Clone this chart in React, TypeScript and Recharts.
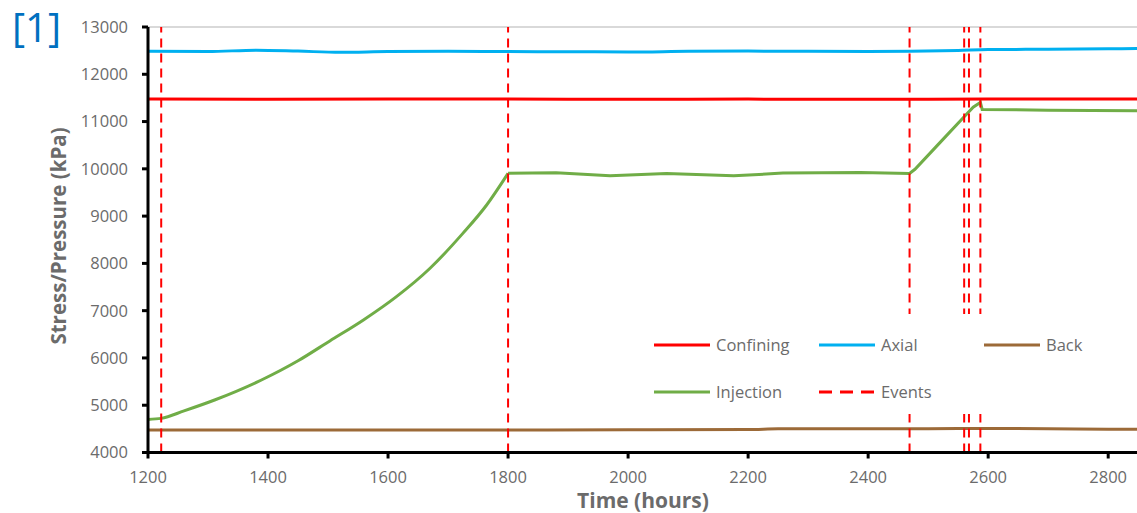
import React from "react";
import { LineChart, Line, XAxis, YAxis, ReferenceLine, Legend } from "recharts";

// hours / kPa
const confiningTime = [1200, 1400, 1600, 1800, 2000, 2200, 2400, 2600, 2848];
const confiningVals = [11475, 11470, 11475, 11475, 11470, 11475, 11470, 11475, 11475];

const axialTime = [1200, 1300, 1380, 1450, 1520, 1600, 1700, 1800, 1900, 2000, 2100, 2200, 2300, 2400, 2470, 2550, 2600, 2700, 2800, 2848];
const axialVals = [12487, 12480, 12510, 12490, 12465, 12480, 12485, 12480, 12478, 12470, 12485, 12490, 12485, 12480, 12487, 12505, 12522, 12530, 12540, 12545];

const backTime = [1200, 1400, 1600, 1800, 2000, 2200, 2250, 2400, 2500, 2600, 2700, 2800, 2848];
const backVals = [4476, 4478, 4476, 4478, 4480, 4485, 4500, 4505, 4500, 4510, 4505, 4492, 4490];

const injectionTime = [
  1200, 1222, 1260, 1311, 1389, 1450, 1503, 1559, 1614, 1670, 1725, 1764, 1800,
  1880, 1970, 2064, 2176, 2258, 2387, 2469, 2478, 2520, 2560, 2575, 2587, 2590, 2700, 2848,
];
const injectionVals = [
  4700, 4722, 4880, 5110, 5533, 5940, 6360, 6804, 7297, 7898, 8640, 9230, 9905,
  9915, 9852, 9903, 9852, 9910, 9925, 9903, 9990, 10560, 11100, 11305, 11404, 11256, 11240, 11226,
];

const eventTimes = [1222, 1800, 2469, 2560, 2568, 2587];

const xTicks = [1200, 1400, 1600, 1800, 2000, 2200, 2400, 2600, 2800];
const yTicks = [4000, 5000, 6000, 7000, 8000, 9000, 10000, 11000, 12000, 13000];

const zip = (t: number[], v: number[]) => t.map((x, i) => ({ t: x, v: v[i] }));

const injection = zip(injectionTime, injectionVals);

// the pressure ramp is smooth, the rest keeps its sharp corners
const series = [
  { key: "confining", color: "#FF0000", data: zip(confiningTime, confiningVals), curve: "monotone" },
  { key: "axial", color: "#00B0F0", data: zip(axialTime, axialVals), curve: "monotone" },
  { key: "back", color: "#9C6A38", data: zip(backTime, backVals), curve: "monotone" },
  { key: "injRamp", color: "#70AD47", data: injection.filter((d) => d.t <= 1800), curve: "monotone" },
  { key: "injRest", color: "#70AD47", data: injection.filter((d) => d.t >= 1800), curve: "linear" },
];

const FONT = "'Open Sans', sans-serif";
const GREY = "#6b6b6b";

function LegendBox() {
  const items = [
    { label: "Confining", color: "#FF0000", x: 9, y: 31 },
    { label: "Axial", color: "#00B0F0", x: 174, y: 31 },
    { label: "Back", color: "#9C6A38", x: 339, y: 31 },
    { label: "Injection", color: "#70AD47", x: 9, y: 78 },
    { label: "Events", color: "#FF0000", x: 174, y: 78, dashed: true },
  ];
  return (
    <svg width={492} height={102}>
      {items.map((it) => (
        <g key={it.label}>
          <line
            x1={it.x}
            x2={it.x + 56}
            y1={it.y}
            y2={it.y}
            stroke={it.color}
            strokeWidth={3}
            strokeDasharray={it.dashed ? "13 8" : undefined}
          />
          <text x={it.x + 62} y={it.y} dy="0.35em" fontSize={16.5} fill={GREY} fontFamily={FONT}>
            {it.label}
          </text>
        </g>
      ))}
    </svg>
  );
}

export default function App() {
  return (
    <div style={{ position: "absolute", left: 0, top: 0, width: 1137, height: 513, background: "#fff" }}>
      <div
        style={{
          position: "absolute",
          left: 12,
          top: 2,
          fontFamily: FONT,
          fontSize: 40,
          color: "#0070C0",
          lineHeight: "50px",
          zIndex: 2,
        }}
      >
        [1]
      </div>
      <LineChart width={1137} height={513} margin={{ top: 27, right: 0, bottom: 20.5, left: 48 }}>
        <XAxis
          type="number"
          dataKey="t"
          domain={[1200, 2848]}
          ticks={xTicks}
          allowDataOverflow
          height={40}
          axisLine={{ stroke: "#000", strokeWidth: 3 }}
          tickLine={{ stroke: "#000", strokeWidth: 3 }}
          tickSize={6}
          tickMargin={13}
          tick={{ fontSize: 16.5, fill: GREY, fontFamily: FONT }}
          label={{
            content: () => (
              <text x={643} y={508} textAnchor="middle" fontSize={21} fontWeight="bold" fill={GREY} fontFamily={FONT}>
                Time (hours)
              </text>
            ),
          }}
        />
        <YAxis
          type="number"
          domain={[4000, 13000]}
          ticks={yTicks}
          width={100}
          axisLine={{ stroke: "#000", strokeWidth: 3 }}
          tickLine={{ stroke: "#000", strokeWidth: 3 }}
          tickSize={6}
          tickMargin={14}
          tick={{ fontSize: 16.5, fill: GREY, fontFamily: FONT }}
          label={{
            content: () => (
              <text
                x={58}
                y={236}
                transform="rotate(-90 58 236)"
                textAnchor="middle"
                dominantBaseline="central"
                fontSize={20.5}
                fontWeight="bold"
                fill={GREY}
                fontFamily={FONT}
              >
                Stress/Pressure (kPa)
              </text>
            ),
          }}
        />
        <ReferenceLine y={13000} stroke="#d9d9d9" strokeWidth={2} />
        {series.map((s) => (
          <Line
            key={s.key}
            data={s.data}
            dataKey="v"
            name={s.key}
            type={s.curve as any}
            stroke={s.color}
            strokeWidth={3}
            dot={false}
            isAnimationActive={false}
          />
        ))}
        {eventTimes.map((t) => (
          <ReferenceLine key={t} x={t} stroke="#FF0000" strokeWidth={2} strokeDasharray="9 6" />
        ))}
        <Legend
          layout="horizontal"
          verticalAlign="middle"
          align="center"
          content={() => <LegendBox />}
          wrapperStyle={{ left: 645, top: 314, width: 492, height: 100, background: "#fff" }}
        />
      </LineChart>
    </div>
  );
}
